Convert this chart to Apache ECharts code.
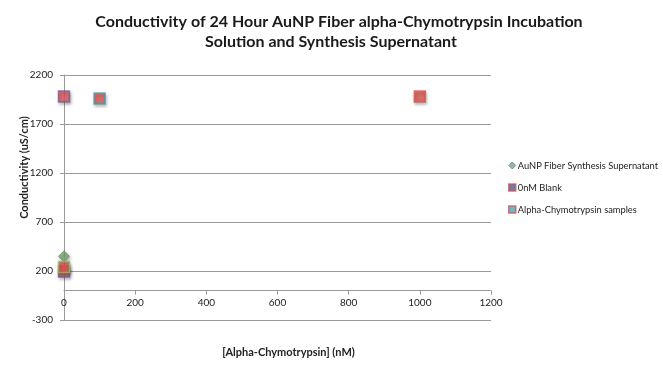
<!DOCTYPE html>
<html>
<head>
<meta charset="utf-8">
<script src="https://cdn.jsdelivr.net/npm/echarts@6/dist/echarts.min.js"></script>
<style>
html,body{margin:0;padding:0;background:#fff;}
#c{width:663px;height:372px;}
</style>
</head>
<body>
<div id="c"></div>
<script>
// ---- data ----
var titleLines = ['Conductivity of 24 Hour AuNP Fiber alpha-Chymotrypsin Incubation', 'Solution and Synthesis Supernatant'];
var seriesNames = ['AuNP Fiber Synthesis Supernatant', '0nM Blank', 'Alpha-Chymotrypsin samples'];
var supernatantX = [0];
var supernatantY = [350];
var blankX = [0, 0];
var blankY = [1980, 195];
var alphaX = [100, 1000, 0];
var alphaY = [1960, 1980, 240];
var xTicks = [0, 200, 400, 600, 800, 1000, 1200];
var yTicks = [-300, 200, 700, 1200, 1700, 2200];

function pairs(xs, ys){ return xs.map(function(x,i){ return [x, ys[i]]; }); }

var RED = '#DF5652';
var FONT = 'Lato, "Open Sans", sans-serif';
var shadow = {shadowBlur: 3, shadowColor: 'rgba(0,0,0,0.35)', shadowOffsetX: 1, shadowOffsetY: 2};
var titleStyle = {fontFamily: FONT, fontWeight: 'bold', fontSize: 16, color: '#1a1a1a'};

var H = 372, GRID_TOP = 75, GRID_BOTTOM = 52;
var yMin = yTicks[0], yMax = yTicks[yTicks.length - 1];
// the x axis crosses the y axis at value 0, as in the reference
var zeroOffset = -(0 - yMin) / (yMax - yMin) * (H - GRID_TOP - GRID_BOTTOM);

var chart = echarts.init(document.getElementById('c'), null, {renderer: 'canvas'});
chart.setOption({
  animation: false,
  backgroundColor: '#fff',
  title: [
    {text: titleLines[0], left: 339, textAlign: 'center', top: 14, padding: 0, textStyle: titleStyle},
    {text: titleLines[1], left: 331, textAlign: 'center', top: 34, padding: 0, textStyle: titleStyle}
  ],
  legend: {
    orient: 'vertical', left: 503, top: 156, itemGap: 13, itemWidth: 7, itemHeight: 7,
    textStyle: {fontFamily: FONT, fontSize: 9.3, color: '#222', padding: [0,0,0,-3]},
    data: [
      {name: seriesNames[0], icon: 'diamond', itemStyle: {color: '#7FA862', borderColor: '#5A86B8', borderWidth: 1}},
      {name: seriesNames[1], icon: 'rect', itemStyle: {color: '#3F5F9C', borderColor: '#D9534F', borderWidth: 1.5}},
      {name: seriesNames[2], icon: 'rect', itemStyle: {color: '#3FA9BF', borderColor: '#D9534F', borderWidth: 1.5}}
    ]
  },
  grid: {left: 64, right: 172, top: GRID_TOP, bottom: GRID_BOTTOM, outerBoundsMode: 'none', containLabel: false},
  xAxis: {
    type: 'value', min: xTicks[0], max: xTicks[xTicks.length-1], interval: 200,
    position: 'bottom', offset: zeroOffset,
    name: '[Alpha-Chymotrypsin] (nM)', nameLocation: 'middle', nameGap: 56, nameMoveOverlap: false,
    nameTextStyle: {fontFamily: FONT, fontWeight: 'bold', fontSize: 11, color: '#222', padding: [0,0,0,22]},
    axisLine: {onZero: false, lineStyle: {color: '#9a9a9a', width: 1}},
    axisTick: {show: true, length: 4, lineStyle: {color: '#9a9a9a'}},
    axisLabel: {fontFamily: FONT, fontSize: 10, color: '#222', margin: 7, formatter: function(v){ return String(v); }},
    splitLine: {show: false}
  },
  yAxis: {
    type: 'value', min: yMin, max: yMax, interval: 500,
    name: 'Conductivity (uS/cm)', nameLocation: 'middle', nameGap: 34, nameMoveOverlap: false,
    nameTextStyle: {fontFamily: FONT, fontWeight: 'bold', fontSize: 11, color: '#222', padding: [0,0,0,60]},
    axisLine: {show: true, onZero: false, lineStyle: {color: '#9a9a9a', width: 1}},
    axisTick: {show: true, length: 4, lineStyle: {color: '#9a9a9a'}},
    axisLabel: {fontFamily: FONT, fontSize: 10, color: '#222', margin: 11, formatter: function(v){ return String(v); }},
    splitLine: {show: true, lineStyle: {color: '#9a9a9a', width: 1}}
  },
  series: [
    {
      name: seriesNames[0], type: 'scatter', symbol: 'diamond', symbolSize: 11, z: 3,
      itemStyle: Object.assign({color: '#7FA862', borderColor: '#5A86B8', borderWidth: 1}, shadow),
      data: pairs(supernatantX, supernatantY)
    },
    {
      name: seriesNames[1], type: 'scatter', symbol: 'rect', symbolSize: 11, z: 2,
      itemStyle: Object.assign({color: RED, borderColor: '#6E5FA6', borderWidth: 1.5}, shadow),
      data: pairs(blankX, blankY)
    },
    {
      name: seriesNames[2], type: 'scatter', symbol: 'rect', symbolSize: 11, z: 4,
      itemStyle: Object.assign({color: RED, borderColor: '#2FA6BC', borderWidth: 1.5}, shadow),
      data: pairs(alphaX, alphaY).map(function(p, i){
        if (i === 1) return {value: p, itemStyle: {borderColor: RED}};
        if (i === 2) return {value: p, itemStyle: {borderColor: '#8DC05A'}};
        return p;
      })
    }
  ]
});
</script>
</body>
</html>
